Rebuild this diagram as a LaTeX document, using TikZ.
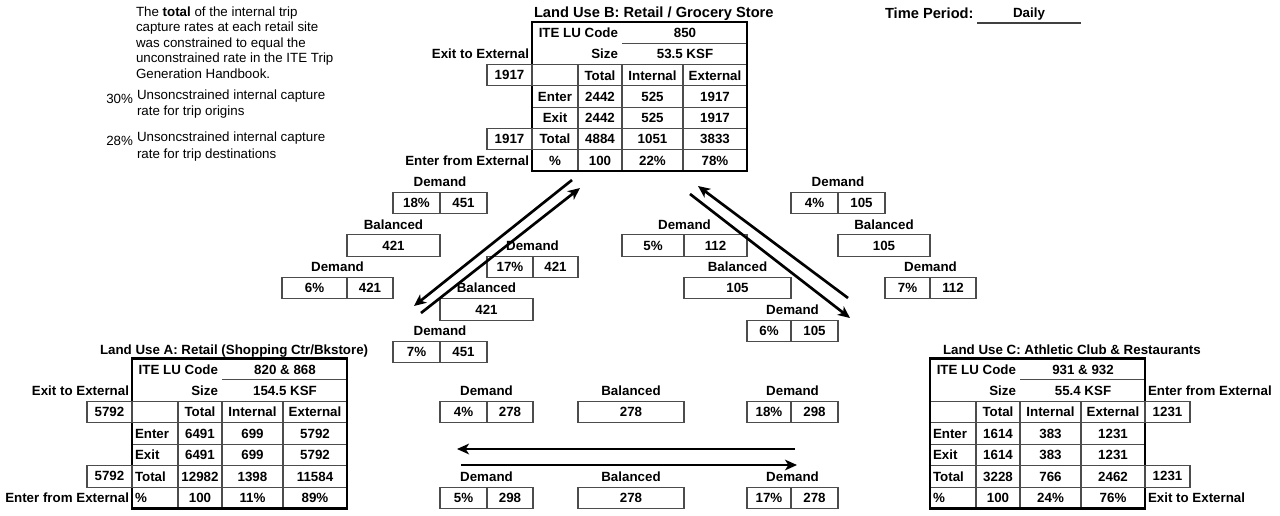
\documentclass[tikz,border=0pt]{standalone}
\usepackage{fontspec}
\setmainfont{Liberation Sans}
\usetikzlibrary{arrows.meta}
\tikzset{
  txt/.style={font=\bfseries, inner sep=0pt, outer sep=0pt, anchor=base},
  ptxt/.style={font=\normalfont, inner sep=0pt, outer sep=0pt, anchor=base west},
  cellbox/.style={draw=black!70, line width=0.8pt, inner sep=0pt, outer sep=0pt, font=\bfseries},
  thinln/.style={draw=black!70, line width=0.8pt},
  outerln/.style={draw=black, line width=1.6pt},
  flow/.style={line width=2pt, -{Stealth[length=9pt,width=8pt,inset=2.5pt]}},
}
\def\bo{4.8}
\def\rh{21.3}
\def\brh{21.3}
\def\labanchor{base}
\def\labx{23}
% table grid and top rows
\newcommand\lutab[3]{%
  \draw[thinln] (90,\rh) -- (215,\rh);
  \foreach \k in {2,...,6} \draw[thinln] (0,\k*\rh) -- (215,\k*\rh);
  \foreach \c in {46,90,151} \draw[thinln] (\c,2*\rh) -- (\c,7*\rh);
  \draw[outerln] (0,0) rectangle (215,7*\rh);
  \node[txt,anchor=base east] (#1-codel) at (86,0.5*\rh+\bo) {ITE LU Code};
  \node[txt] (#1-code) at (153,0.5*\rh+\bo) {#2};
  \node[txt,anchor=base east] (#1-sizel) at (86,1.5*\rh+\bo) {Size};
  \node[txt] (#1-size) at (153,1.5*\rh+\bo) {#3};
}
\newcommand\trow[6]{%
  \node[txt,anchor=\labanchor] (#1-l) at (\labx,{(#2-0.5)*\rh+\bo}) {#3};
  \node[txt] (#1-t) at (68,{(#2-0.5)*\rh+\bo}) {#4};
  \node[txt] (#1-i) at (120.5,{(#2-0.5)*\rh+\bo}) {#5};
  \node[txt] (#1-e) at (183,{(#2-0.5)*\rh+\bo}) {#6};
}
% two-cell box with label above: name, label, x1, xm, x2, ytop, left, right
\newcommand\dbox[8]{%
  \node[txt] (#1-lab) at ({(#3+#5)/2},{#6-\brh/2+\bo}) {#2};
  \node[cellbox,minimum width={(#4-#3)*0.75pt},minimum height={\brh*0.75pt}] (#1-a) at ({(#3+#4)/2},{#6+\brh/2}) {#7};
  \node[cellbox,minimum width={(#5-#4)*0.75pt},minimum height={\brh*0.75pt}] (#1-b) at ({(#4+#5)/2},{#6+\brh/2}) {#8};
}
% one-cell box with label above: name, label, x1, x2, ytop, text
\newcommand\onebox[6]{%
  \node[txt] (#1-lab) at ({(#3+#4)/2},{#5-\brh/2+\bo}) {#2};
  \node[cellbox,minimum width={(#4-#3)*0.75pt},minimum height={\brh*0.75pt}] (#1-a) at ({(#3+#4)/2},{#5+\brh/2}) {#6};
}
\begin{document}
\begin{tikzpicture}[x=0.75pt,y=-0.75pt]
\useasboundingbox[fill=white] (0,0) rectangle (1280,515);

% ---------- note text ----------
\node[ptxt] (p1) at (136,16) {The \textbf{total} of the internal trip};
\node[ptxt] (p2) at (136,31.5) {capture rates at each retail site};
\node[ptxt] (p3) at (136,47) {was constrained to equal the};
\node[ptxt] (p4) at (136,62.5) {unconstrained rate in the ITE Trip};
\node[ptxt] (p5) at (136,78) {Generation Handbook.};
\node[ptxt,anchor=base east] (r30) at (133,103.5) {30\%};
\node[ptxt] (o1) at (137,99.5) {Unsoncstrained internal capture};
\node[ptxt] (o2) at (137,115.5) {rate for trip origins};
\node[ptxt,anchor=base east] (r28) at (133,145.5) {28\%};
\node[ptxt] (d1) at (137,141.5) {Unsoncstrained internal capture};
\node[ptxt] (d2) at (137,158.5) {rate for trip destinations};

% ---------- time period ----------
\node[txt,font=\bfseries\fontsize{11}{13}\selectfont,anchor=base west] (tp) at (885,18) {Time Period:};
\node[txt] (daily) at (1029,17.5) {Daily};
\coordinate (ul1) at (977,23);
\coordinate (ul2) at (1081,23);
\draw[line width=1.1pt,black!75] (ul1) -- (ul2);

% ---------- Land Use B ----------
\node[txt,font=\bfseries\fontsize{11}{13}\selectfont,anchor=base west] (titleB) at (534,17) {Land Use B: Retail / Grocery Store};
\def\rh{21.3}\def\labanchor{base}\def\labx{23}
\begin{scope}[shift={(532,22)}]
  \lutab{B}{850}{53.5 KSF}
  \trow{B-h}{3}{}{Total}{Internal}{External}
  \trow{B-en}{4}{Enter}{2442}{525}{1917}
  \trow{B-ex}{5}{Exit}{2442}{525}{1917}
  \trow{B-to}{6}{Total}{4884}{1051}{3833}
  \trow{B-pc}{7}{\%}{100}{22\%}{78\%}
  \node[txt,anchor=base east] (B-exitl) at (-3,1.5*\rh+\bo) {Exit to External};
  \node[cellbox,minimum width=45*0.75pt,minimum height=\rh*0.75pt] (B-x1) at (-22.5,2.5*\rh) {1917};
  \node[cellbox,minimum width=45*0.75pt,minimum height=\rh*0.75pt] (B-x2) at (-22.5,5.5*\rh) {1917};
  \node[txt,anchor=base east] (B-enterl) at (-3,6.5*\rh+\bo) {Enter from External};
\end{scope}

% ---------- Land Use A ----------
\node[txt,anchor=base west] (titleA) at (100,354) {Land Use A: Retail (Shopping Ctr/Bkstore)};
\def\rh{21.43}\def\labanchor{base west}\def\labx{3}
\begin{scope}[shift={(132,358.5)}]
  \lutab{A}{820 \& 868}{154.5 KSF}
  \trow{A-h}{3}{}{Total}{Internal}{External}
  \trow{A-en}{4}{Enter}{6491}{699}{5792}
  \trow{A-ex}{5}{Exit}{6491}{699}{5792}
  \trow{A-to}{6}{Total}{12982}{1398}{11584}
  \trow{A-pc}{7}{\%}{100}{11\%}{89\%}
  \node[txt,anchor=base east] (A-exitl) at (-3,1.5*\rh+\bo) {Exit to External};
  \node[cellbox,minimum width=45*0.75pt,minimum height=\rh*0.75pt] (A-x1) at (-22.5,2.5*\rh) {5792};
  \node[cellbox,minimum width=45*0.75pt,minimum height=\rh*0.75pt] (A-x2) at (-22.5,5.5*\rh) {5792};
  \node[txt,anchor=base east] (A-enterl) at (-3,6.5*\rh+\bo) {Enter from External};
\end{scope}

% ---------- Land Use C ----------
\node[txt,anchor=base west] (titleC) at (943,354) {Land Use C: Athletic Club \& Restaurants};
\begin{scope}[shift={(930,358.5)}]
  \lutab{C}{931 \& 932}{55.4 KSF}
  \trow{C-h}{3}{}{Total}{Internal}{External}
  \trow{C-en}{4}{Enter}{1614}{383}{1231}
  \trow{C-ex}{5}{Exit}{1614}{383}{1231}
  \trow{C-to}{6}{Total}{3228}{766}{2462}
  \trow{C-pc}{7}{\%}{100}{24\%}{76\%}
  \node[txt,anchor=base west] (C-enterl) at (218,1.5*\rh+\bo) {Enter from External};
  \node[cellbox,minimum width=45*0.75pt,minimum height=\rh*0.75pt] (C-x1) at (237.5,2.5*\rh) {1231};
  \node[cellbox,minimum width=45*0.75pt,minimum height=\rh*0.75pt] (C-x2) at (237.5,5.5*\rh) {1231};
  \node[txt,anchor=base west] (C-exitl) at (218,6.5*\rh+\bo) {Exit to External};
\end{scope}

% ---------- A <-> B boxes ----------
\def\brh{21.3}
\dbox{ab1}{Demand}{393}{440}{487}{192.3}{18\%}{451}
\onebox{ab2}{Balanced}{347}{440}{234.9}{421}
\dbox{ab3}{Demand}{282}{347}{393}{277.5}{6\%}{421}
\dbox{ab4}{Demand}{487}{533}{578}{256.2}{17\%}{421}
\onebox{ab5}{Balanced}{440}{533}{298.8}{421}
\dbox{ab6}{Demand}{393}{440}{487}{341.4}{7\%}{451}

% ---------- B <-> C boxes ----------
\dbox{bc1}{Demand}{791}{838}{885}{192.3}{4\%}{105}
\onebox{bc2}{Balanced}{838}{930}{234.9}{105}
\dbox{bc3}{Demand}{885}{930}{976}{277.5}{7\%}{112}
\dbox{bc4}{Demand}{622}{684}{747}{234.9}{5\%}{112}
\onebox{bc5}{Balanced}{684}{791}{277.5}{105}
\dbox{bc6}{Demand}{747}{791}{838}{320.1}{6\%}{105}

% ---------- A <-> C boxes ----------
\def\brh{21.43}
\dbox{ac1}{Demand}{440}{487}{533}{401.4}{4\%}{278}
\onebox{ac2}{Balanced}{578}{684}{401.4}{278}
\dbox{ac3}{Demand}{747}{791}{838}{401.4}{18\%}{298}
\dbox{ac4}{Demand}{440}{487}{533}{487.1}{5\%}{298}
\onebox{ac5}{Balanced}{578}{684}{487.1}{278}
\dbox{ac6}{Demand}{747}{791}{838}{487.1}{17\%}{278}

% ---------- arrows ----------
\coordinate (la1s) at (572,180);
\coordinate (la1e) at (414,306);
\coordinate (la2s) at (421,313);
\coordinate (la2e) at (580,188);
\coordinate (ra1s) at (848,298);
\coordinate (ra1e) at (698,186);
\coordinate (ra2s) at (690,194);
\coordinate (ra2e) at (850,318);
\coordinate (ba1s) at (795,449);
\coordinate (ba1e) at (457,449);
\coordinate (ba2s) at (461,465);
\coordinate (ba2e) at (797,465);
\draw[flow] (la1s) -- (la1e);
\draw[flow] (la2s) -- (la2e);
\draw[flow] (ra1s) -- (ra1e);
\draw[flow] (ra2s) -- (ra2e);
\draw[flow] (ba1s) -- (ba1e);
\draw[flow] (ba2s) -- (ba2e);
\end{tikzpicture}
\end{document}
